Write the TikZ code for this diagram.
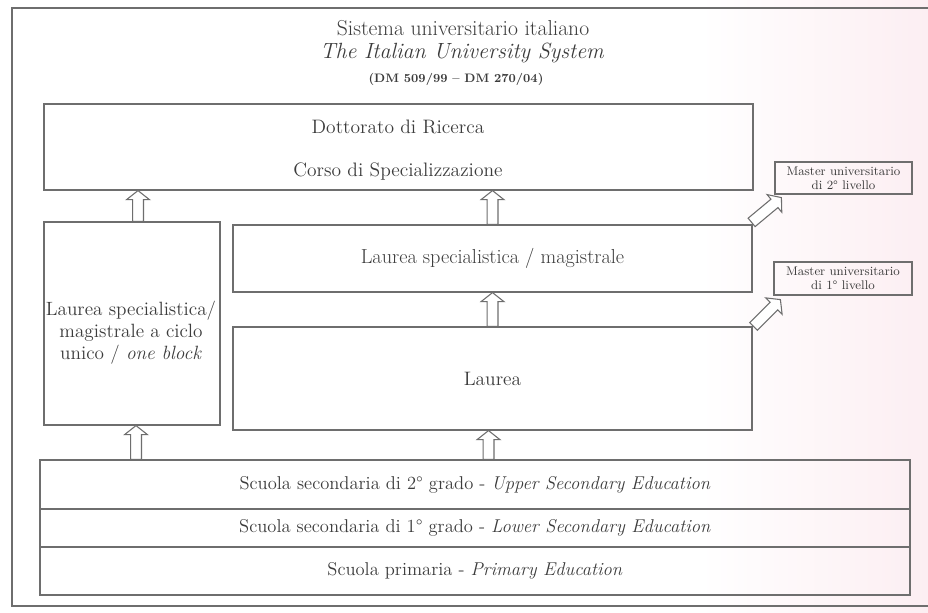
\documentclass[tikz,border=0pt]{standalone}
\usepackage{fontspec}
\usetikzlibrary{calc}
\definecolor{ln}{RGB}{110,110,110}
\definecolor{tx}{RGB}{60,60,60}
\definecolor{pinkish}{RGB}{252,238,242}
\begin{document}
\begin{tikzpicture}[x=0.75pt,y=-0.75pt,
  box/.style={draw=ln, line width=0.9pt, inner sep=0pt, text=tx, align=center},
  txt/.style={text=tx, inner sep=0pt, align=center},
  boxfont/.style={font=\fontsize{14.6}{17}\selectfont},
  rowfont/.style={font=\fontsize{13.9}{16}\selectfont},
  mfont/.style={font=\fontsize{9.4}{10.6}\selectfont},
  hollow/.style={draw=ln, line width=0.8pt, fill=white,
    to path={let \p1=(\tikztostart), \p2=(\tikztotarget),
      \n1={atan2(\y2-\y1,\x2-\x1)} in
      ($(\p1)+(\n1+90:4.1pt)$) --
      ($(\p2)+(\n1+180:6.8pt)+(\n1+90:4.1pt)$) --
      ($(\p2)+(\n1+180:6.8pt)+(\n1+90:8.6pt)$) --
      (\p2) --
      ($(\p2)+(\n1+180:6.8pt)+(\n1-90:8.6pt)$) --
      ($(\p2)+(\n1+180:6.8pt)+(\n1-90:4.1pt)$) --
      ($(\p1)+(\n1-90:4.1pt)$) -- cycle}},
]
\useasboundingbox (0,0) rectangle (928,613);
\fill[white] (0,0) rectangle (928,613);
\shade[left color=white, right color=pinkish] (700,0) rectangle (928,613);

% outer frame
\draw[ln, line width=1pt] (935,8) -- (12,8) -- (12,606) -- (935,606);

% titles
\node[txt, font=\fontsize{16.2}{19}\selectfont] (t1) at (463,28) {Sistema universitario italiano};
\node[txt, font=\fontsize{16.5}{19}\selectfont\itshape] (t2) at (462,53) {The Italian University System};
\node[txt, font=\fontsize{9.2}{12}\selectfont\bfseries] (t3) at (456,79) {(DM 509/99 – DM 270/04)};

% boxes
\node[box, minimum width=531.75pt, minimum height=64.5pt] (dott) at (398.5,147) {};
\node[txt, boxfont] (dt1) at (398,127) {Dottorato di Ricerca};
\node[txt, boxfont] (dt2) at (398,172) {Corso di Specializzazione};

\node[box, minimum width=132pt, minimum height=152.25pt] (lb) at (132,323.5) {};
\node[txt, font=\fontsize{14.4}{16.5}\selectfont] (lbt) at (131,333)
  {Laurea specialistica/\\magistrale a ciclo\\unico / \textit{one block}};

\node[box, font=\fontsize{15.2}{17}\selectfont, minimum width=389.25pt, minimum height=50.25pt] (ls) at (492.5,258.5) {Laurea specialistica / magistrale};
\node[box, boxfont, minimum width=389.25pt, minimum height=77.25pt] (la) at (492.5,378.5) {Laurea};

\node[box, rowfont, minimum width=652.5pt, minimum height=36.75pt] (r1) at (475,484.5)
  {Scuola secondaria di 2° grado - \textit{Upper Secondary Education}};
\node[box, rowfont, minimum width=652.5pt, minimum height=28.5pt] (r2) at (475,528)
  {Scuola secondaria di 1° grado - \textit{Lower Secondary Education}};
\node[box, rowfont, minimum width=652.5pt, minimum height=36pt] (r3) at (475,571)
  {Scuola primaria - \textit{Primary Education}};

\node[box, mfont, minimum width=102.75pt, minimum height=24pt] (m2) at (843.5,178)
  {Master universitario\\di 2° livello};
\node[box, mfont, minimum width=103.5pt, minimum height=24.75pt] (m1) at (843,278.5)
  {Master universitario\\di 1° livello};

% arrows
\draw[hollow] ([xshift=4.5pt]lb.north) to ([xshift=4.5pt]lb.north |- dott.south);
\draw[hollow] (ls.north) to (ls.north |- dott.south);
\draw[hollow] (la.north) to (la.north |- ls.south);
\draw[hollow] ([xshift=3pt]lb.south |- r1.north) to ([xshift=3pt]lb.south);
\draw[hollow] ([xshift=-3pt]la.south |- r1.north) to ([xshift=-3pt]la.south);
\draw[hollow] ([shift={(-1,-2)}]ls.north east) to ([shift={(7,3)}]m2.south west);
\draw[hollow] ([shift={(1,0)}]la.north east) to ([shift={(7,4)}]m1.south west);
\end{tikzpicture}
\end{document}
